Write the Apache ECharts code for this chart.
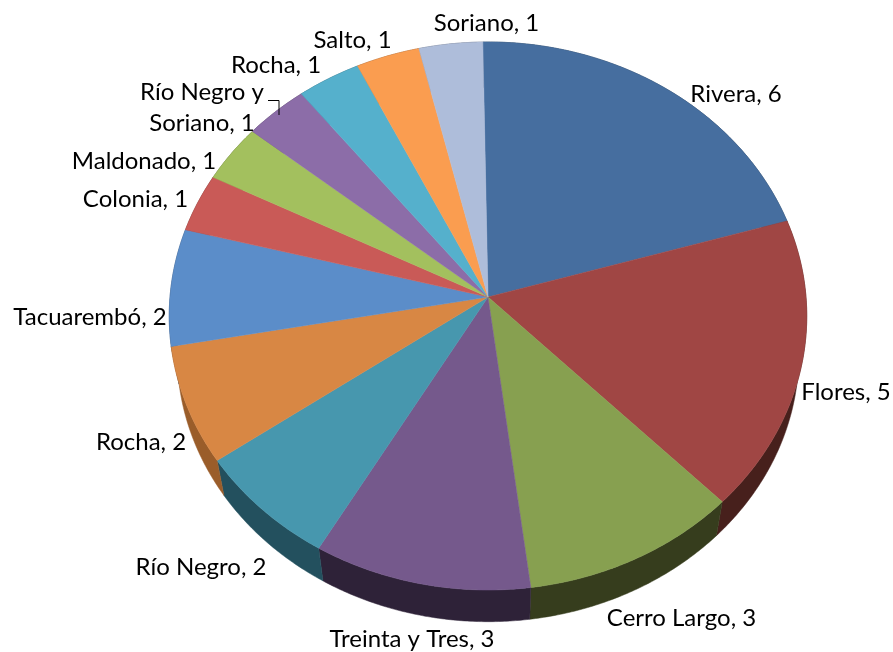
<!DOCTYPE html>
<html>
<head>
<meta charset="utf-8">
<style>html,body{margin:0;padding:0;background:#fff}#c{width:893px;height:652px}</style>
<script src="https://cdn.jsdelivr.net/npm/echarts@6/dist/echarts.min.js"></script>
</head>
<body>
<div id="c"></div>
<script>
const categories = ['Rivera','Flores','Cerro Largo','Treinta y Tres','Río Negro','Rocha','Tacuarembó','Colonia','Maldonado','Río Negro y\nSoriano','Rocha','Salto','Soriano'];
const values = [6,5,3,3,2,2,2,1,1,1,1,1,1];
const topColors = ['#466E9F','#A04644','#87A050','#75598C','#4797AE','#D88744','#5B8DC9','#C95A57','#A3C05E','#8C6DA8','#55B0CC','#FA9D50','#AEBDDA'];
const sideColors = ['#24384F','#47201C','#363D1D','#2E2238','#23505E','#9A5D2A','#2E4665','#652D2B','#52602F','#463754','#2B5866','#7D4F28','#575F6D'];
// label placement: [centre x, centre y]
const labelSpots = [[736,94],[846,392],[681.5,618],[412,639],[201,567],[141,442],[90,317],[135.5,199],[144,161],[202,108],[276,65],[352.5,40],[486.5,23]];
const leaderLine = [[268,100.5],[279,100.5],[279,115]];

const firstAngle = -1, total = values.reduce((a,b)=>a+b,0);
const apex = [488,297], ax = 318, ay = 272.7, persp = 0.0693, sideScale = 0.975, sideDrop = 39;
function project(deg){
  const t = deg*Math.PI/180, u = Math.sin(t), v = -Math.cos(t), w = 1-persp*v;
  return [apex[0]+ax*u/w, apex[1]+ay*v/w];
}
function lower(p){ return [apex[0]+sideScale*(p[0]-apex[0]), apex[1]+sideDrop+sideScale*(p[1]-apex[1])]; }
function arc(i){
  let sum=0; for(let k=0;k<i;k++) sum+=values[k];
  const a0=firstAngle+sum/total*360, a1=a0+values[i]/total*360, pts=[];
  const n=Math.ceil(a1-a0)*2;
  for(let k=0;k<=n;k++) pts.push(project(a0+(a1-a0)*k/n));
  return pts;
}
const rows = values.map((v,i)=>[i,v]);
const option = {
  animation:false,
  backgroundColor:'#fff',
  series:[
    {type:'custom',coordinateSystem:'none',silent:true,z:1,data:rows,
     renderItem(p,api){
       const i=api.value(0), top=arc(i), c=sideColors[i];
       return {type:'polygon',shape:{points:top.concat(top.map(lower).reverse())},style:{fill:c,stroke:c,lineWidth:0.5}};
     }},
    {type:'custom',coordinateSystem:'none',silent:true,z:2,data:rows,
     renderItem(p,api){
       const i=api.value(0), c=topColors[i];
       return {type:'polygon',shape:{points:[apex].concat(arc(i))},style:{fill:c,stroke:c,lineWidth:0.5}};
     }},
    {type:'custom',coordinateSystem:'none',silent:true,z:3,data:rows,
     renderItem(p,api){
       const i=api.value(0), s=labelSpots[i];
       return {type:'text',x:s[0],y:s[1],style:{text:categories[i]+', '+api.value(1),x:0,y:0,fill:'#000',
         font:'24px Lato',textAlign:'center',textVerticalAlign:'middle',lineHeight:31}};
     }}
  ],
  graphic:[{type:'polyline',shape:{points:leaderLine},style:{stroke:'#000',lineWidth:1,fill:null},z:5}]
};
echarts.init(document.getElementById('c'),null,{renderer:'canvas'}).setOption(option);
</script>
</body>
</html>
